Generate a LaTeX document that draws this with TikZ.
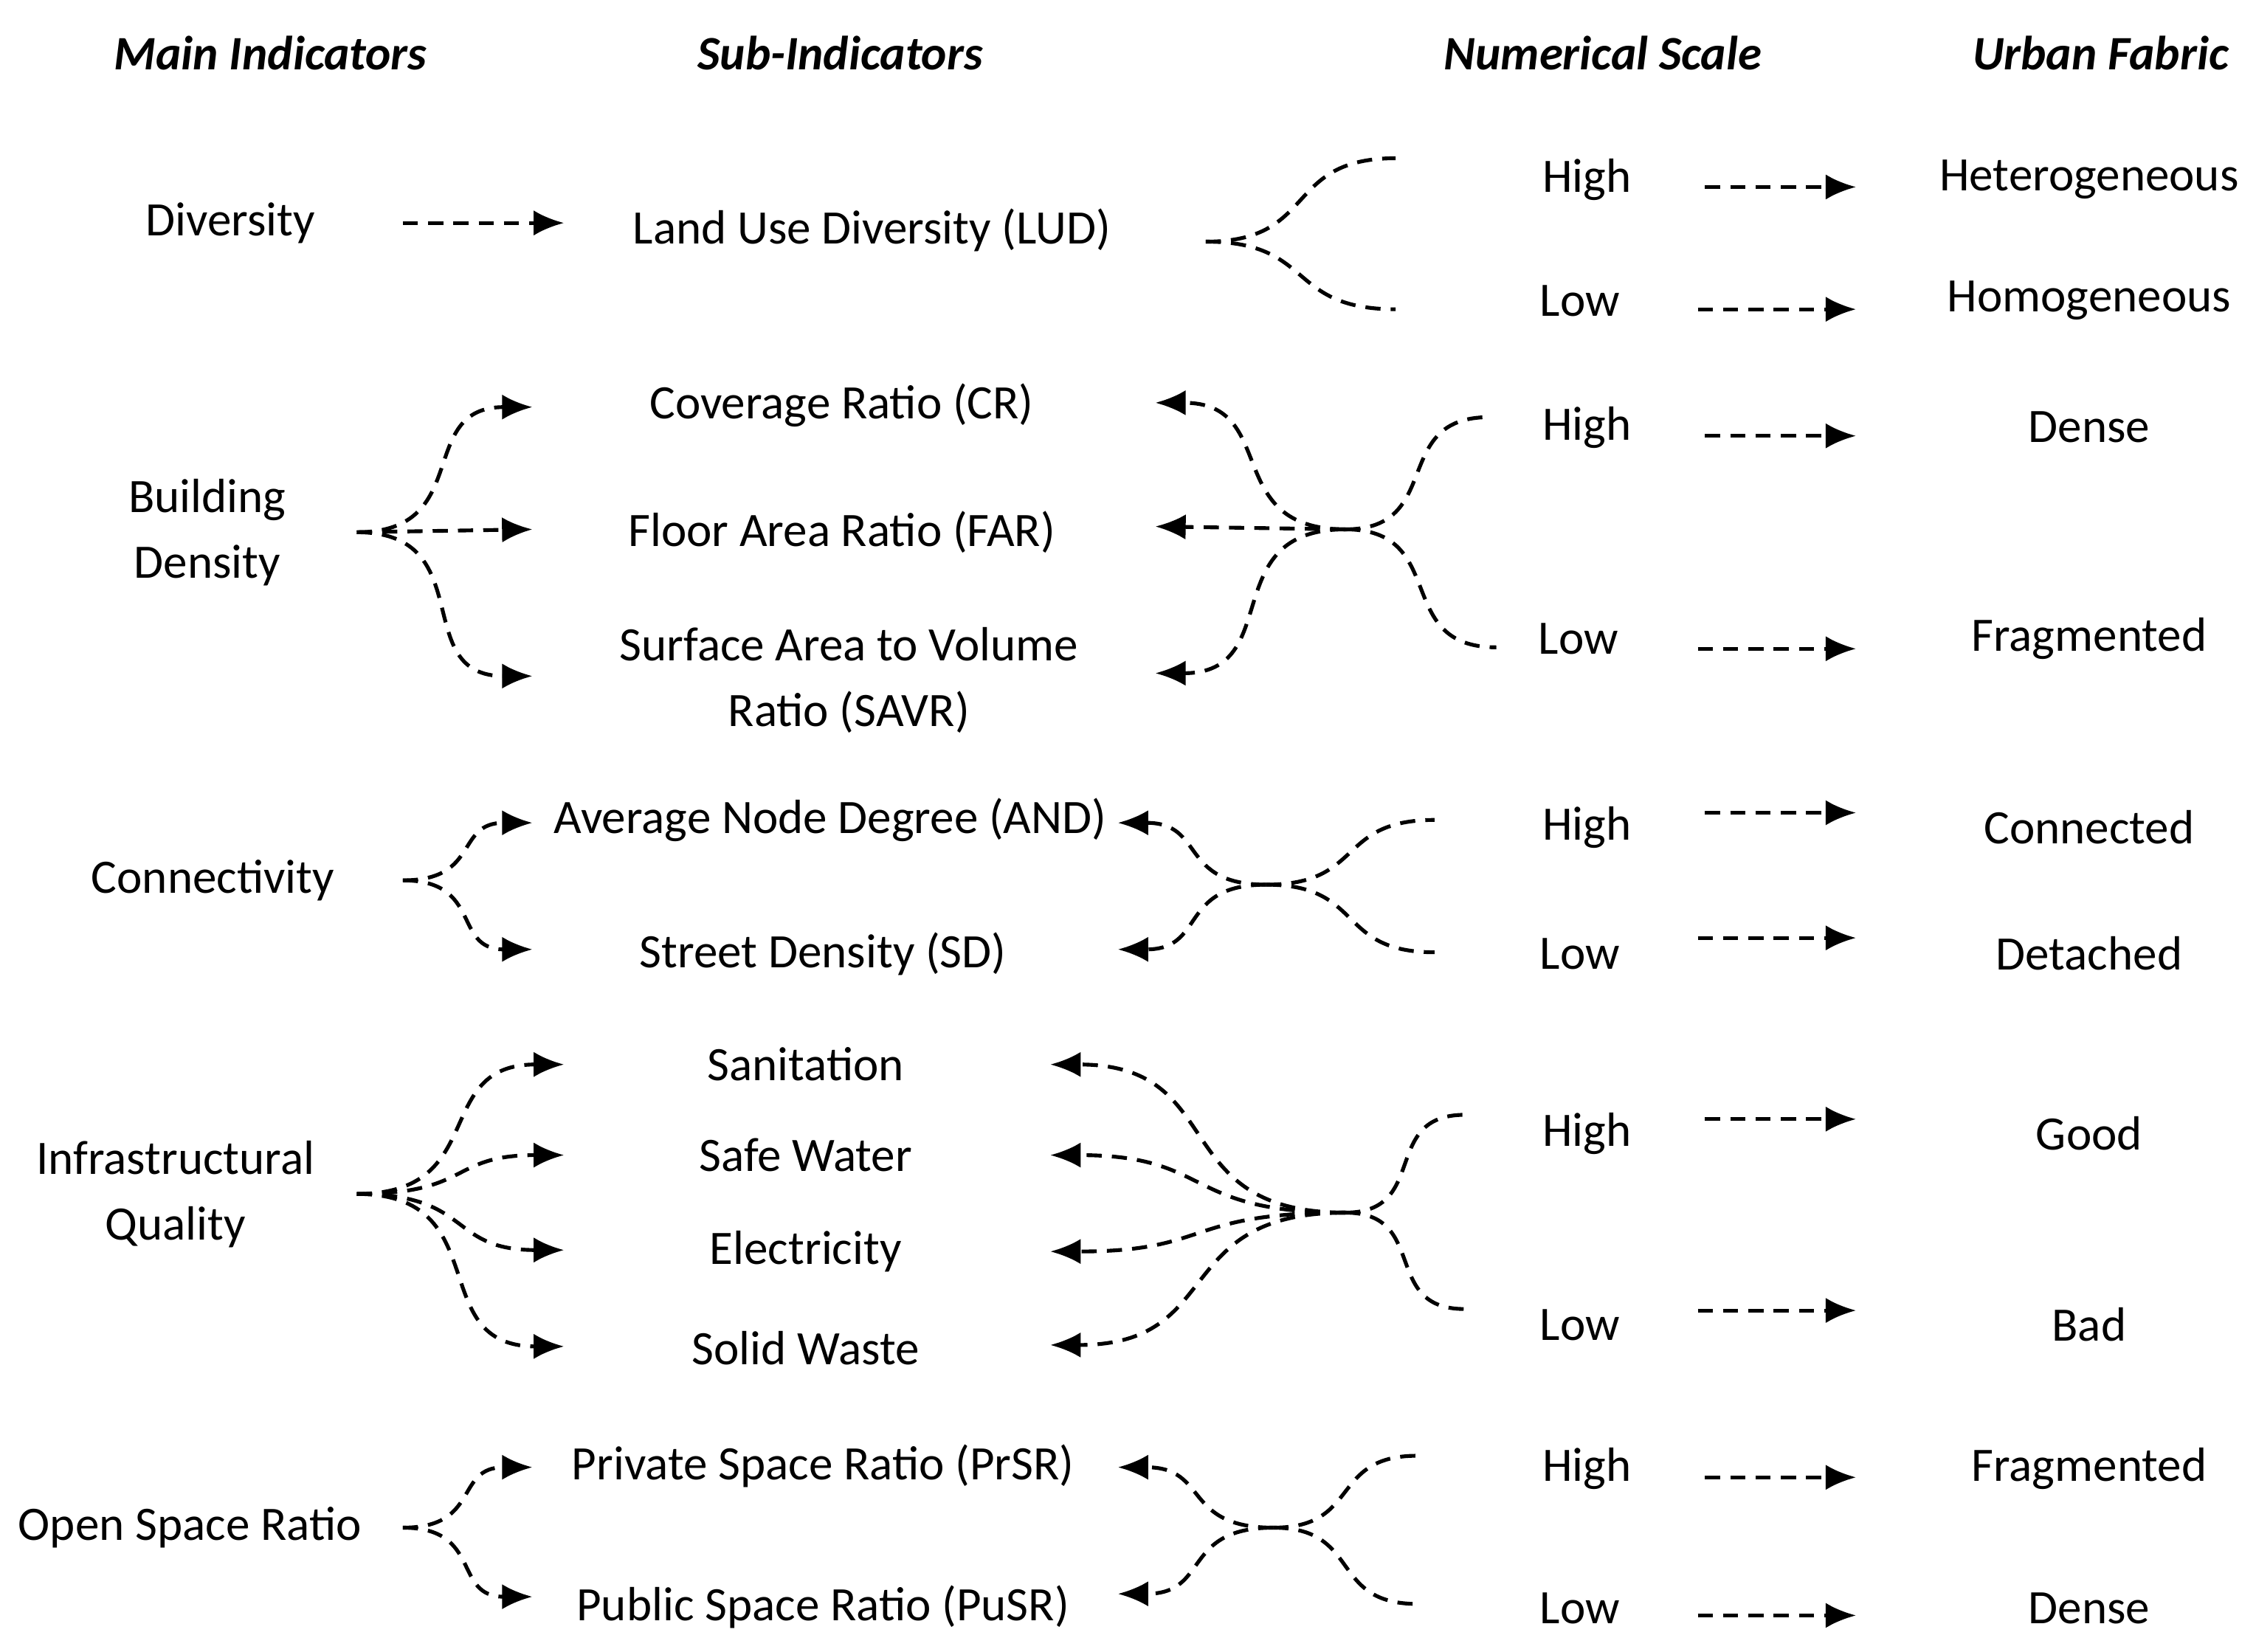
\documentclass[tikz,border=0pt]{standalone}
\usepackage{fontspec}
\setmainfont{Carlito}
\usetikzlibrary{arrows.meta}
\begin{document}
\begin{tikzpicture}[x=0.02cm,y=-0.02cm,
  t/.style={font=\fontsize{19}{23}\selectfont,align=center,inner sep=0pt},
  h/.style={font=\fontsize{19}{23}\selectfont\bfseries\itshape,inner sep=0pt},
  d/.style={line width=1.5pt,dash pattern=on 6pt off 4pt},
  a/.style={d,-{Latex[length=12pt,width=10pt]}},
  R/.style={a,out=0,in=180,looseness=1.4},
  L/.style={a,out=180,in=0,looseness=1.4},
  B/.style={d,out=0,in=180,looseness=1.4}]
\useasboundingbox (0,0) rectangle (1568,1148);
% headers
\node[h] (h1) at (188,37) {Main Indicators};
\node[h] (h2) at (584,37) {Sub-Indicators};
\node[h] (h3) at (1114,37) {Numerical Scale};
\node[h] (h4) at (1460,37) {Urban Fabric};
% ---- Diversity
\node[t] (div) at (160,155) {Diversity};
\node[t] (lud) at (606,160) {Land Use Diversity (LUD)};
\coordinate (d1) at (280,155); \coordinate (d2) at (392,155);
\draw[a] (d1) -- (d2);
\coordinate (f1) at (838,168); \coordinate (f1a) at (970,110); \coordinate (f1b) at (970,215);
\draw[B] (f1) to (f1a); \draw[B] (f1) to (f1b);
\node[t] (hi1) at (1103,125) {High}; \node[t] (lo1) at (1098,209) {Low};
\coordinate (p1) at (1185,130); \coordinate (q1) at (1290,130);
\coordinate (p2) at (1180,215); \coordinate (q2) at (1290,215);
\draw[a] (p1) -- (q1); \draw[a] (p2) -- (q2);
\node[t] (u1) at (1452,125) {Heterogeneous}; \node[t] (u2) at (1452,209) {Homogeneous};
% ---- Building density
\node[t] (bd) at (144,370) {Building\\[3pt]Density};
\node[t] (cr) at (585,282) {Coverage Ratio (CR)};
\node[t] (far) at (585,370) {Floor Area Ratio (FAR)};
\node[t] (savr) at (590,473) {Surface Area to Volume\\[3pt]Ratio (SAVR)};
\coordinate (g1) at (248,370);
\coordinate (g1a) at (370,283); \coordinate (g1b) at (370,368); \coordinate (g1c) at (370,470);
\draw[R] (g1) to (g1a); \draw[a] (g1) -- (g1b); \draw[R] (g1) to (g1c);
\coordinate (g2) at (935,368);
\coordinate (g2a) at (803,280); \coordinate (g2b) at (803,366); \coordinate (g2c) at (803,468);
\draw[L] (g2) to (g2a); \draw[a] (g2) -- (g2b); \draw[L] (g2) to (g2c);
\coordinate (g2d) at (1035,290); \coordinate (g2e) at (1040,450);
\draw[B] (g2) to (g2d); \draw[B] (g2) to (g2e);
\node[t] (hi2) at (1103,297) {High}; \node[t] (lo2) at (1097,444) {Low};
\coordinate (p3) at (1185,303); \coordinate (q3) at (1290,303);
\coordinate (p4) at (1180,451); \coordinate (q4) at (1290,451);
\draw[a] (p3) -- (q3); \draw[a] (p4) -- (q4);
\node[t] (u3) at (1452,297) {Dense}; \node[t] (u4) at (1452,444) {Fragmented};
% ---- Connectivity
\node[t] (con) at (148,612) {Connectivity};
\node[t] (and) at (577,570) {Average Node Degree (AND)};
\node[t] (sd) at (572,663) {Street Density (SD)};
\coordinate (c1) at (280,612); \coordinate (c1a) at (370,572); \coordinate (c1b) at (370,660);
\draw[R] (c1) to (c1a); \draw[R] (c1) to (c1b);
\coordinate (c2) at (880,615); \coordinate (c2a) at (777,572); \coordinate (c2b) at (777,660);
\draw[L] (c2) to (c2a); \draw[L] (c2) to (c2b);
\coordinate (c2c) at (997,570); \coordinate (c2d) at (997,662);
\draw[B] (c2) to (c2c); \draw[B] (c2) to (c2d);
\node[t] (hi3) at (1103,575) {High}; \node[t] (lo3) at (1098,663) {Low};
\coordinate (p5) at (1185,565); \coordinate (q5) at (1290,565);
\coordinate (p6) at (1180,652); \coordinate (q6) at (1290,652);
\draw[a] (p5) -- (q5); \draw[a] (p6) -- (q6);
\node[t] (u5) at (1452,575) {Connected}; \node[t] (u6) at (1452,663) {Detached};
% ---- Infrastructural Quality
\node[t] (iq) at (122,830) {Infrastructural\\[3pt]Quality};
\node[t] (san) at (560,740) {Sanitation};
\node[t] (sw) at (560,803) {Safe Water};
\node[t] (el) at (560,870) {Electricity};
\node[t] (sol) at (560,937) {Solid Waste};
\coordinate (i1) at (248,830);
\coordinate (i1a) at (392,740); \coordinate (i1b) at (392,803); \coordinate (i1c) at (392,869); \coordinate (i1d) at (392,936);
\draw[R] (i1) to (i1a); \draw[R] (i1) to (i1b); \draw[R] (i1) to (i1c); \draw[R] (i1) to (i1d);
\coordinate (i2) at (935,843);
\coordinate (i2a) at (730,740); \coordinate (i2b) at (730,803); \coordinate (i2c) at (730,870); \coordinate (i2d) at (730,935);
\draw[L] (i2) to (i2a); \draw[L] (i2) to (i2b); \draw[L] (i2) to (i2c); \draw[L] (i2) to (i2d);
\coordinate (i2e) at (1018,775); \coordinate (i2f) at (1018,910);
\draw[B] (i2) to (i2e); \draw[B] (i2) to (i2f);
\node[t] (hi4) at (1103,788) {High}; \node[t] (lo4) at (1098,921) {Low};
\coordinate (p7) at (1185,778); \coordinate (q7) at (1290,778);
\coordinate (p8) at (1180,911); \coordinate (q8) at (1290,911);
\draw[a] (p7) -- (q7); \draw[a] (p8) -- (q8);
\node[t] (u7) at (1452,788) {Good}; \node[t] (u8) at (1452,921) {Bad};
% ---- Open Space Ratio
\node[t] (osr) at (132,1062) {Open Space Ratio};
\node[t] (prsr) at (572,1019) {Private Space Ratio (PrSR)};
\node[t] (pusr) at (572,1117) {Public Space Ratio (PuSR)};
\coordinate (o1) at (280,1062); \coordinate (o1a) at (370,1020); \coordinate (o1b) at (370,1110);
\draw[R] (o1) to (o1a); \draw[R] (o1) to (o1b);
\coordinate (o2) at (885,1062); \coordinate (o2a) at (777,1020); \coordinate (o2b) at (777,1108);
\draw[L] (o2) to (o2a); \draw[L] (o2) to (o2b);
\coordinate (o2c) at (985,1012); \coordinate (o2d) at (985,1115);
\draw[B] (o2) to (o2c); \draw[B] (o2) to (o2d);
\node[t] (hi5) at (1103,1021) {High}; \node[t] (lo5) at (1098,1118) {Low};
\coordinate (p9) at (1185,1027); \coordinate (q9) at (1290,1027);
\coordinate (p10) at (1180,1123); \coordinate (q10) at (1290,1123);
\draw[a] (p9) -- (q9); \draw[a] (p10) -- (q10);
\node[t] (u9) at (1452,1021) {Fragmented}; \node[t] (u10) at (1452,1118) {Dense};
\end{tikzpicture}
\end{document}
